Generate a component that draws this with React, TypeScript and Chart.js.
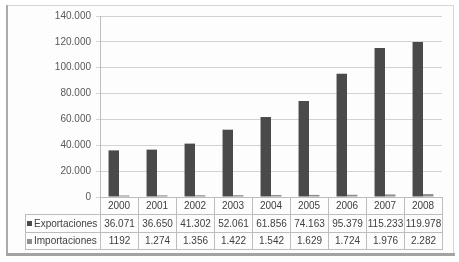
import React, { useEffect, useRef } from "react";
import { Chart, registerables } from "chart.js";

Chart.register(...registerables);

const years = ["2000", "2001", "2002", "2003", "2004", "2005", "2006", "2007", "2008"];
const exportaciones = [36071, 36650, 41302, 52061, 61856, 74163, 95379, 115233, 119978];
const importaciones = [1192, 1274, 1356, 1422, 1542, 1629, 1724, 1976, 2282];
const exportLabels = ["36.071", "36.650", "41.302", "52.061", "61.856", "74.163", "95.379", "115.233", "119.978"];
const importLabels = ["1192", "1.274", "1.356", "1.422", "1.542", "1.629", "1.724", "1.976", "2.282"];
const seriesNames = ["Exportaciones", "Importaciones"];
const seriesColors = ["#4a4a4a", "#8e8e8e"];
const yMax = 140000;
const yStep = 20000;

const FONT = "'Liberation Sans', Arial, sans-serif";

const fmt = (v: number) => String(v).replace(/\B(?=(\d{3})+(?!\d))/g, ".");

const framePlugin = {
  id: "frame",
  beforeDraw(chart: any) {
    const ctx = chart.ctx;
    ctx.save();
    ctx.fillStyle = "#ffffff";
    ctx.fillRect(0, 0, chart.width, chart.height);
    ctx.fillStyle = "#fdfdfd";
    ctx.fillRect(7, 5, 446, 248);
    ctx.strokeStyle = "#d6d6d6";
    ctx.lineWidth = 1;
    ctx.beginPath();
    ctx.moveTo(6, 5.5);
    ctx.lineTo(454, 5.5);
    ctx.moveTo(453.5, 5);
    ctx.lineTo(453.5, 254);
    ctx.stroke();
    ctx.fillStyle = "#ababab";
    ctx.fillRect(6, 5, 2, 250);
    ctx.fillStyle = "#a3a3a3";
    ctx.fillRect(6, 253, 449, 3);
    ctx.restore();
  },
};

const tablePlugin = {
  id: "dataTable",
  afterDraw(chart: any) {
    const ctx = chart.ctx;
    const area = chart.chartArea;
    const xs = chart.scales.x;
    const n = years.length;
    const colW = (area.right - area.left) / n;
    const top = Math.round(area.bottom);
    const r1 = top + 17;
    const r2 = r1 + 18;
    const r3 = r2 + 17;
    const labelLeft = 25;
    ctx.save();
    ctx.strokeStyle = "#bdbdbd";
    ctx.lineWidth = 1;
    ctx.beginPath();
    for (let i = 0; i <= n; i++) {
      const x = Math.round(xs.getPixelForValue(Math.min(i, n - 1)) + (i === n ? colW / 2 : -colW / 2)) + 0.5;
      ctx.moveTo(x, top);
      ctx.lineTo(x, r3);
    }
    ctx.moveTo(labelLeft + 0.5, r1);
    ctx.lineTo(labelLeft + 0.5, r3);
    [r1, r2, r3].forEach((y) => {
      ctx.moveTo(labelLeft, y + 0.5);
      ctx.lineTo(Math.round(area.right) + 1, y + 0.5);
    });
    ctx.stroke();

    ctx.font = `10px ${FONT}`;
    ctx.textBaseline = "middle";
    const rows = [exportLabels, importLabels];
    const rowMid = [(r1 + r2) / 2 + 1, (r2 + r3) / 2 + 1];
    rows.forEach((labels, ri) => {
      ctx.fillStyle = seriesColors[ri];
      ctx.fillRect(labelLeft + 2, Math.round(rowMid[ri]) - 3, 5, 5);
      ctx.fillStyle = "#404040";
      ctx.textAlign = "left";
      ctx.fillText(seriesNames[ri], labelLeft + 9, rowMid[ri]);
      ctx.textAlign = "center";
      labels.forEach((t, i) => {
        ctx.fillText(t, xs.getPixelForValue(i) + 0.5, rowMid[ri]);
      });
    });
    ctx.restore();
  },
};

export default function App() {
  const ref = useRef<HTMLCanvasElement | null>(null);

  useEffect(() => {
    if (!ref.current) return;
    const chart = new Chart(ref.current, {
      type: "bar",
      data: {
        labels: years,
        datasets: [
          {
            label: seriesNames[0],
            data: exportaciones,
            backgroundColor: seriesColors[0],
            categoryPercentage: 0.55,
            barPercentage: 1.0,
          },
          {
            label: seriesNames[1],
            data: importaciones,
            backgroundColor: seriesColors[1],
            categoryPercentage: 0.55,
            barPercentage: 1.0,
          },
        ],
      },
      options: {
        animation: false,
        responsive: false,
        devicePixelRatio: 1,
        layout: { padding: { left: 0, right: 17, top: 16, bottom: 48 } },
        plugins: {
          legend: { display: false },
          tooltip: { enabled: false },
        },
        scales: {
          x: {
            grid: { display: false, drawTicks: false },
            border: { display: true, color: "#bdbdbd" },
            ticks: { padding: 3, color: "#404040", font: { family: FONT, size: 10 }, maxRotation: 0 },
            afterFit: (s: any) => {
              s.height = 17;
            },
          },
          y: {
            min: 0,
            max: yMax,
            ticks: {
              stepSize: yStep,
              padding: 5,
              color: "#595959",
              font: { family: FONT, size: 10 },
              callback: (v: any) => fmt(Number(v)),
            },
            grid: { color: "#d3d3d3", tickLength: 4, drawTicks: true },
            border: { color: "#bdbdbd" },
            afterFit: (s: any) => {
              s.width = 100;
            },
          },
        },
      },
      plugins: [framePlugin, tablePlugin],
    });
    return () => chart.destroy();
  }, []);

  return (
    <div style={{ position: "fixed", left: 0, top: 0, width: 459, height: 262 }}>
      <canvas ref={ref} width={459} height={262} style={{ display: "block" }} />
    </div>
  );
}
